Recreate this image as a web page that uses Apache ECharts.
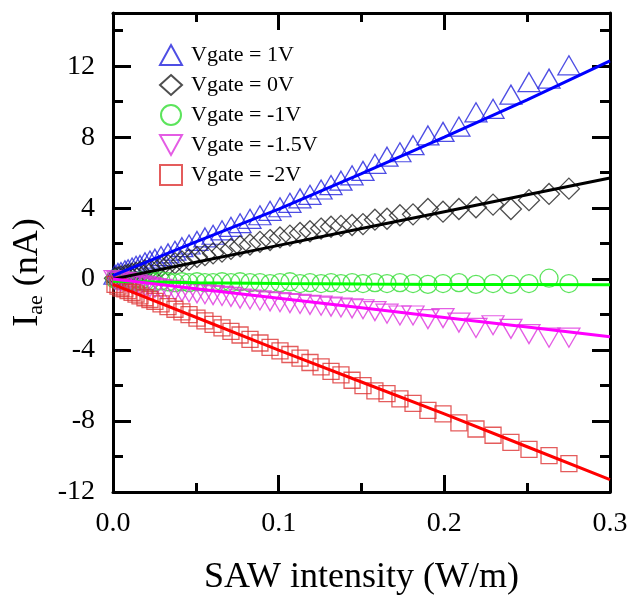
<!DOCTYPE html>
<html>
<head>
<meta charset="utf-8">
<script src="https://cdn.jsdelivr.net/npm/echarts@6/dist/echarts.min.js"></script>
<style>
  html, body { margin: 0; padding: 0; background: #fff; }
  #chart { width: 635px; height: 602px; }
</style>
</head>
<body>
<div id="chart"></div>
<script>
// SAW intensity (W/m), shared by all gate voltages
var xs = [0.0012, 0.0030, 0.0048, 0.0072, 0.0091, 0.0115, 0.0139, 0.0163, 0.0193, 0.0223,
  0.0253, 0.0290, 0.0332, 0.0374, 0.0416, 0.0459, 0.0507, 0.0555, 0.0604, 0.0658,
  0.0712, 0.0767, 0.0827, 0.0887, 0.0948, 0.1008, 0.1068, 0.1129, 0.1189, 0.1256,
  0.1316, 0.1376, 0.1443, 0.1509, 0.1581, 0.1654, 0.1732, 0.1811, 0.1901, 0.1992,
  0.2088, 0.2191, 0.2294, 0.2402, 0.2511, 0.2632, 0.2752];

// measured Iae (nA)
var v1 = [0.25, 0.35, 0.4, 0.5, 0.55, 0.65, 0.75, 0.8, 0.95, 1.05,
  1.15, 1.3, 1.45, 1.6, 1.8, 1.95, 2.15, 2.35, 2.5, 2.75,
  2.95, 3.15, 3.4, 3.6, 3.85, 4.05, 4.3, 4.55, 4.75, 5.05,
  5.3, 5.55, 5.85, 6.1, 6.5, 6.9, 7.15, 7.55, 8.1, 8.3,
  8.6, 9.4, 9.6, 10.4, 11.1, 11.3, 12.05];
var v0 = [0.05, 0.1, 0.15, 0.2, 0.25, 0.3, 0.35, 0.4, 0.5, 0.55,
  0.6, 0.7, 0.8, 0.9, 1.0, 1.1, 1.25, 1.35, 1.45, 1.55,
  1.7, 1.85, 1.95, 2.1, 2.2, 2.35, 2.45, 2.6, 2.7, 2.85,
  2.95, 3.0, 3.05, 3.1, 3.35, 3.4, 3.6, 3.65, 3.95, 3.8,
  3.95, 4.05, 4.2, 3.95, 4.45, 4.8, 5.1];
var vm1 = [0.0, -0.05, -0.05, -0.1, -0.1, -0.1, -0.15, -0.1, -0.15, -0.1,
  -0.15, -0.1, -0.15, -0.2, -0.15, -0.2, -0.15, -0.2, -0.2, -0.15,
  -0.2, -0.15, -0.2, -0.2, -0.25, -0.2, -0.15, -0.25, -0.2, -0.25,
  -0.2, -0.25, -0.2, -0.25, -0.2, -0.25, -0.2, -0.25, -0.3, -0.25,
  -0.2, -0.3, -0.25, -0.3, -0.25, 0.05, -0.25];
var vm15 = [-0.05, -0.1, -0.15, -0.15, -0.2, -0.25, -0.3, -0.35, -0.4, -0.45,
  -0.5, -0.55, -0.6, -0.65, -0.7, -0.75, -0.8, -0.85, -0.9, -0.95,
  -1.0, -1.1, -1.15, -1.2, -1.25, -1.3, -1.35, -1.4, -1.45, -1.5,
  -1.55, -1.6, -1.65, -1.7, -1.8, -1.95, -2.05, -2.05, -2.25, -2.2,
  -2.45, -2.75, -2.6, -2.8, -3.1, -3.3, -3.3];
var vm2 = [-0.3, -0.4, -0.5, -0.55, -0.65, -0.75, -0.85, -0.95, -1.05, -1.15,
  -1.25, -1.4, -1.55, -1.7, -1.85, -2.0, -2.2, -2.35, -2.55, -2.75,
  -2.95, -3.15, -3.4, -3.6, -3.85, -4.05, -4.25, -4.45, -4.7, -4.95,
  -5.2, -5.4, -5.7, -6.0, -6.3, -6.45, -6.75, -7.0, -7.4, -7.6,
  -8.1, -8.45, -8.8, -9.2, -9.6, -9.95, -10.4];

// fitted lines
var fitX = [0, 0.05, 0.1, 0.15, 0.2, 0.25, 0.3];
var fit1 = [0.2, 2.1, 3.95, 5.95, 8.0, 10.1, 12.3];
var fit0 = [0.0, 0.95, 1.9, 2.85, 3.8, 4.75, 5.7];
var fitm1 = [-0.12, -0.2, -0.25, -0.28, -0.3, -0.31, -0.32];
var fitm15 = [0.0, -0.54, -1.08, -1.62, -2.16, -2.7, -3.25];
var fitm2 = [-0.3, -2.15, -4.0, -5.8, -7.6, -9.45, -11.3];

var names = ["Vgate = 1V", "Vgate = 0V", "Vgate = -1V", "Vgate = -1.5V", "Vgate = -2V"];

var font = "'Liberation Serif', 'DejaVu Serif', serif";
var chart = echarts.init(document.getElementById("chart"));

function pairs(x, y) {
  return x.map(function(v, i) { return [v, y[i]]; });
}

function dots(name, y, symbol, size, color) {
  return {
    name: name,
    type: "scatter",
    data: pairs(xs, y),
    symbol: symbol,
    symbolSize: size,
    itemStyle: { color: "rgba(255,255,255,0)", borderColor: color, borderWidth: 1.3 },
    z: 2
  };
}

function fit(name, y, color) {
  return {
    name: name,
    type: "line",
    data: pairs(fitX, y),
    showSymbol: false,
    lineStyle: { color: color, width: 3 },
    z: 3
  };
}

var axisLine = { show: true, onZero: false, lineStyle: { color: "#000", width: 3 } };

function xAx(pos, labels) {
  return {
    type: "value",
    position: pos,
    min: 0,
    max: 0.3,
    interval: 0.1,
    axisLine: axisLine,
    axisTick: { show: true, inside: true, length: 17, lineStyle: { color: "#000", width: 3 } },
    minorTick: { show: true, splitNumber: 2, length: 9, lineStyle: { color: "#000", width: 3 } },
    splitLine: { show: false },
    axisLabel: {
      show: labels,
      margin: 18,
      color: "#000",
      fontSize: 28,
      fontFamily: font,
      formatter: function(v) { return v.toFixed(1); }
    },
    name: labels ? "SAW intensity (W/m)" : "",
    nameLocation: "middle",
    nameGap: 68,
    nameTextStyle: { color: "#000", fontSize: 36, fontFamily: font }
  };
}

function yAx(pos, step, len, labels) {
  return {
    type: "value",
    position: pos,
    min: -12,
    max: 15,
    interval: step,
    axisLine: step === 4 ? axisLine : { show: false, onZero: false },
    axisTick: { show: true, inside: true, length: len, lineStyle: { color: "#000", width: 3 } },
    splitLine: { show: false },
    axisLabel: {
      show: labels,
      margin: 18,
      color: "#000",
      fontSize: 28,
      fontFamily: font,
      formatter: function(v) { return v > 12 ? "" : String(v); }
    },
    name: labels ? "{a|I}{b|ae}{a| (nA)}" : "",
    nameLocation: "middle",
    nameGap: 58,
    nameTextStyle: {
      color: "#000",
      fontFamily: font,
      padding: [0, 40, 0, 0],
      rich: {
        a: { fontSize: 36, fontFamily: font, color: "#000" },
        b: { fontSize: 22, fontFamily: font, color: "#000", padding: [16, 0, 0, 0] }
      }
    }
  };
}

chart.setOption({
  backgroundColor: "#fff",
  animation: false,
  grid: { left: 113, right: 25, top: 13, bottom: 110 },
  legend: {
    data: names,
    orient: "vertical",
    left: 154,
    top: 39,
    itemWidth: 22,
    itemHeight: 20,
    itemGap: 8,
    textStyle: { color: "#000", fontSize: 22, fontFamily: font, padding: [0, 0, 0, 4] }
  },
  xAxis: [xAx("bottom", true), xAx("top", false)],
  yAxis: [yAx("left", 4, 18, true), yAx("left", 2, 10, false), yAx("right", 4, 18, false), yAx("right", 2, 10, false)],
  series: [
    dots(names[0], v1, "triangle", [22, 19], "#2222dd"),
    dots(names[1], v0, "diamond", [21, 21], "#222222"),
    dots(names[2], vm1, "circle", 18, "#33dd33"),
    dots(names[3], vm15, "path://M0,0L10,0L5,9Z", [22, 19], "#dd33dd"),
    dots(names[4], vm2, "rect", 16, "#dd3333"),
    fit("fit 1V", fit1, "#0000ff"),
    fit("fit 0V", fit0, "#000000"),
    fit("fit -1V", fitm1, "#00ff00"),
    fit("fit -1.5V", fitm15, "#ff00ff"),
    fit("fit -2V", fitm2, "#ff0000")
  ]
});
</script>
</body>
</html>
